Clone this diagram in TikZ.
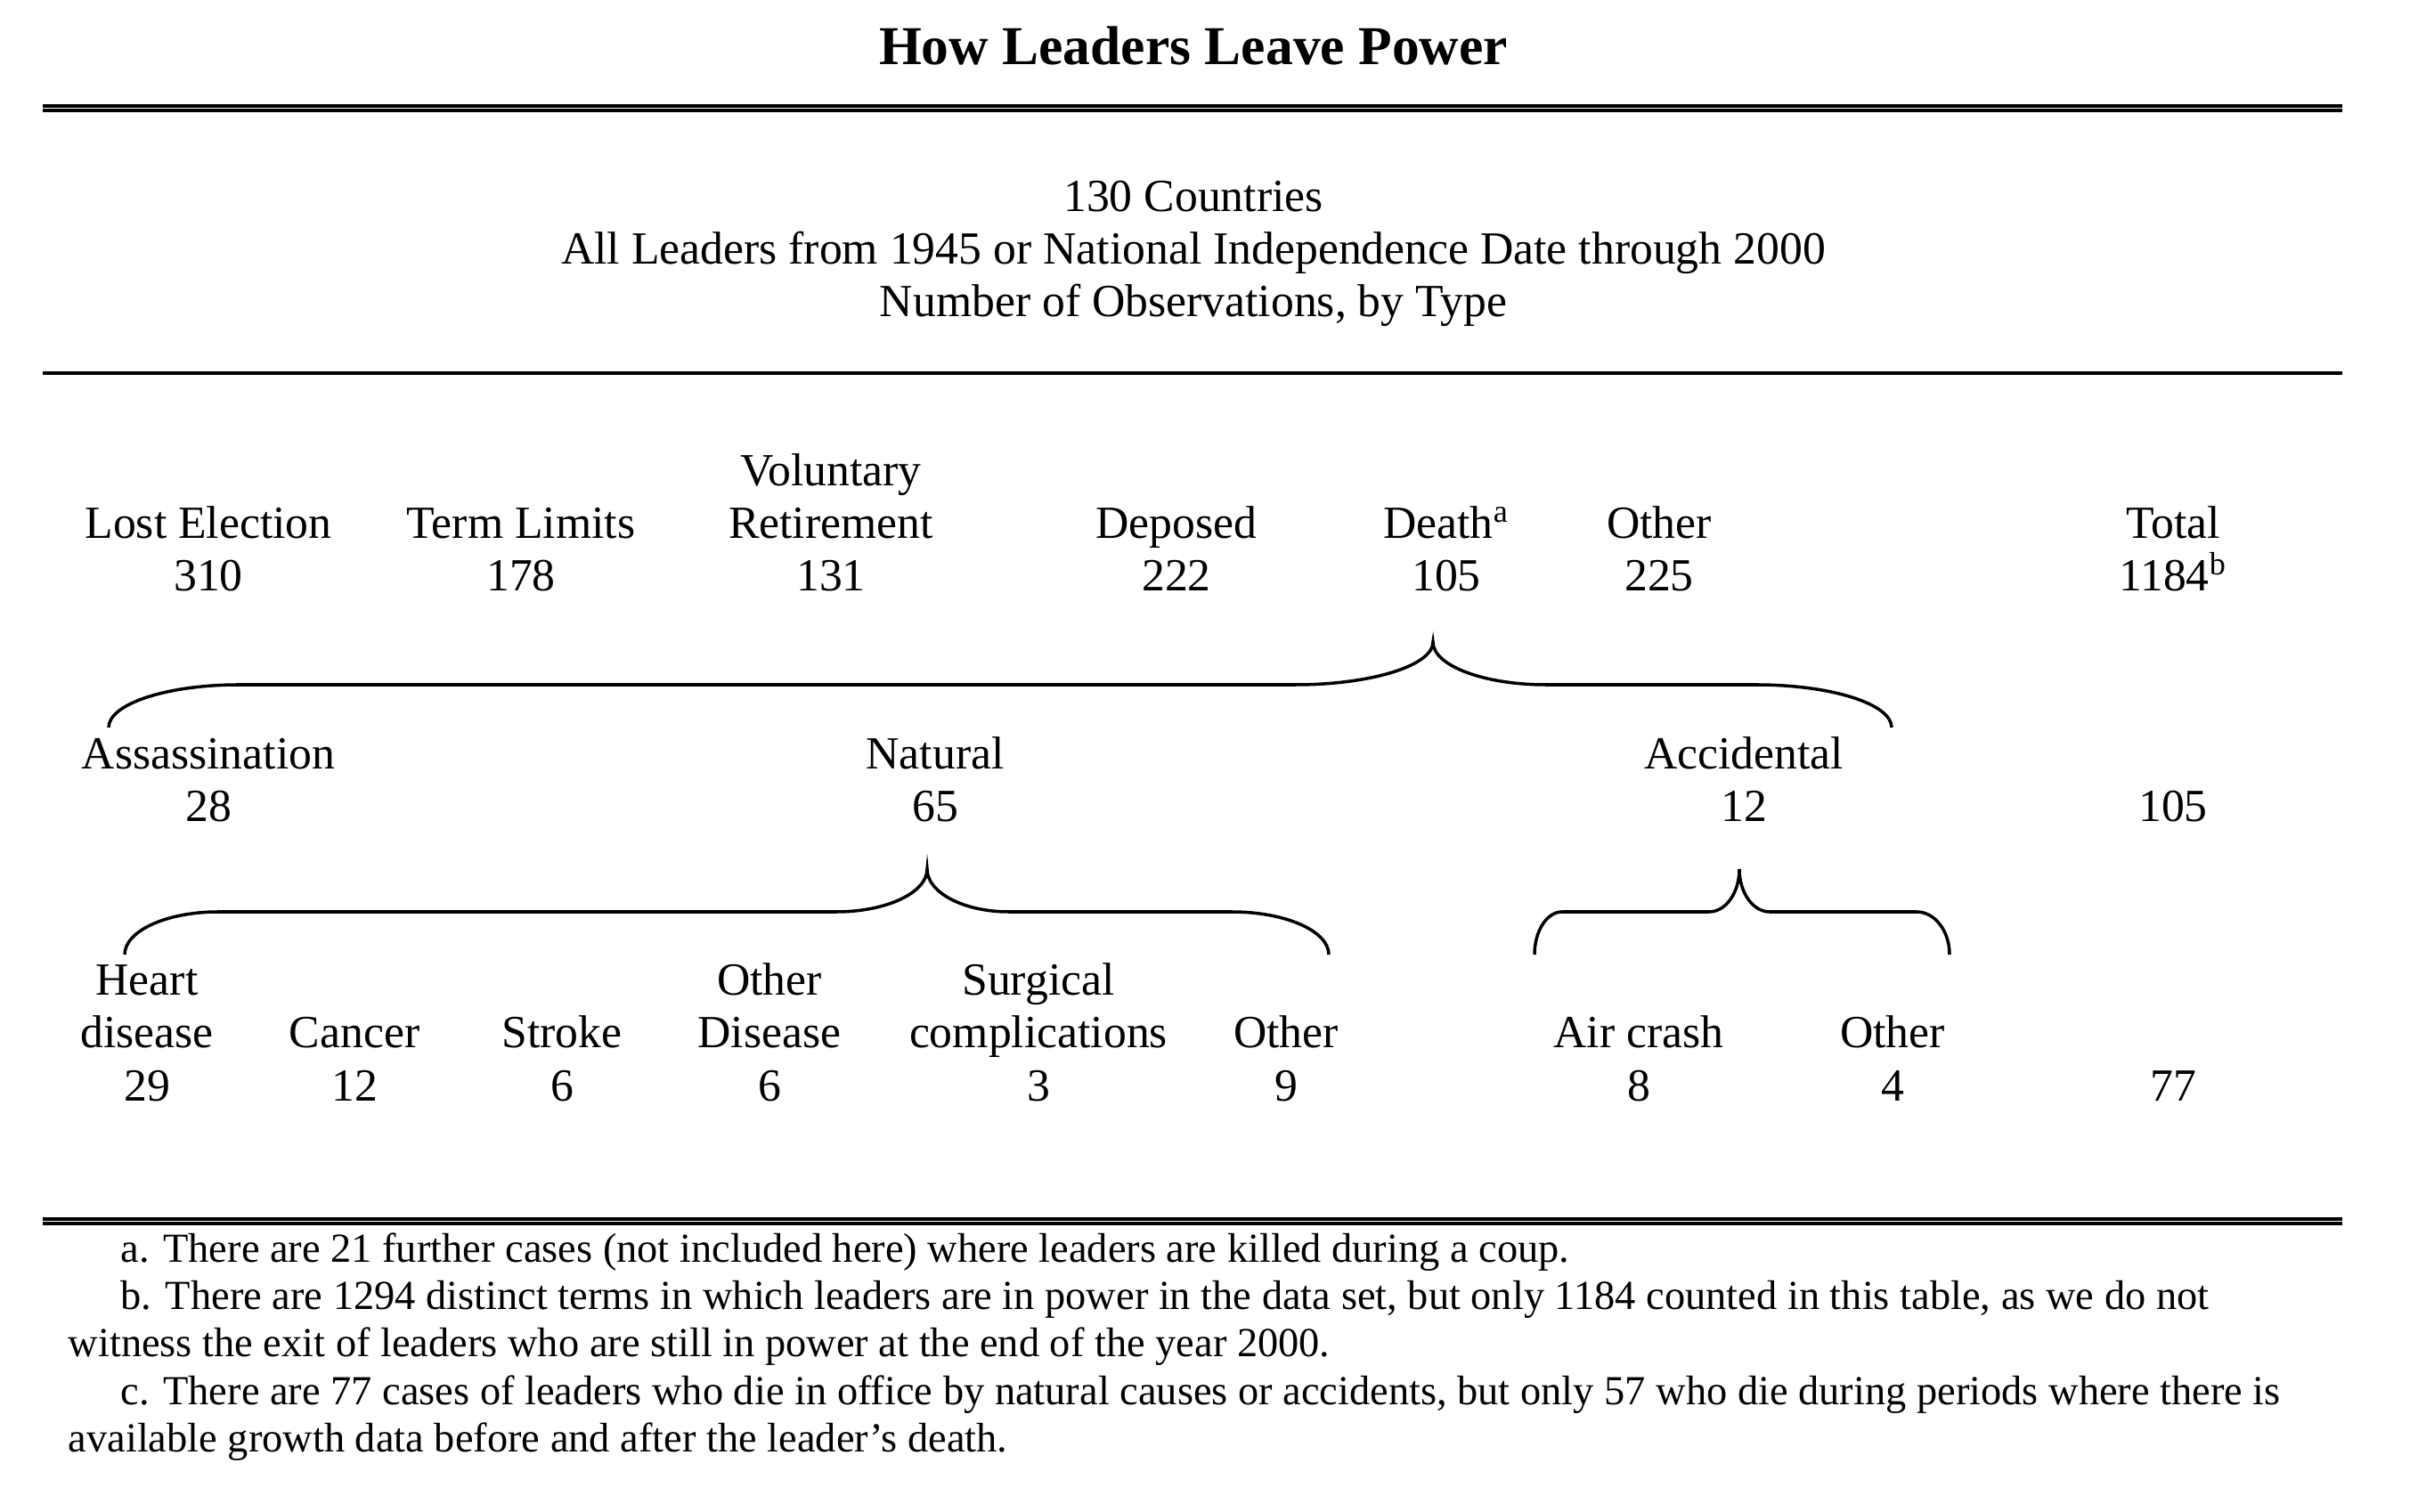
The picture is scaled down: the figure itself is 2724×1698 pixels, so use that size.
\documentclass[tikz,border=0pt]{standalone}
\usepackage{fontspec}
\setmainfont{Liberation Serif}
\usetikzlibrary{positioning}
\newcommand\cellsize{\fontsize{14.7}{16.8}\selectfont}
\newcommand\notesize{\fontsize{13.2}{15}\selectfont}
\newcommand\titlesize{\fontsize{17.5}{20}\selectfont}

\begin{document}
\begin{tikzpicture}[x=0.01cm,y=-0.01cm,
    cell/.style={font=\cellsize,align=center,anchor=base,inner sep=0pt},
    note/.style={font=\notesize,anchor=base west,inner sep=0pt},
    rule/.style={line width=1.14pt},
    brace/.style={line width=1pt},
  ]
  \useasboundingbox (0,0) rectangle (2724,1698);
  % heading and rules
  \node[font=\titlesize\bfseries,anchor=base,inner sep=0pt] (title) at (1340,73) {How Leaders Leave Power};
  \draw[rule] (48,119) -- (2630,119);
  \draw[rule] (48,124) -- (2630,124);
  \node[cell] (sample) at (1340,356) {130 Countries\\All Leaders from 1945 or National Independence Date through 2000\\Number of Observations, by Type};
  \draw[line width=1pt] (48,419) -- (2630,419);
  % exit types
  \foreach \nm/\x/\y/\txt in {lost/234/664/Lost Election\\310, term/585/664/Term Limits\\178,
      retire/933/664/Voluntary\\Retirement\\131, deposed/1321/664/Deposed\\222,
      death/1624/664/Death\textsuperscript{a}\\105, other/1863/664/Other\\225,
      total/2440/664/Total\\1184\textsuperscript{b}}
    \node[cell] (\nm) at (\x,\y) {\txt};
  % kinds of death
  \foreach \nm/\x/\y/\txt in {assas/234/923/Assassination\\28, natural/1050/923/Natural\\65,
      accid/1958/923/Accidental\\12, dtotal/2440/923/105}
    \node[cell] (\nm) at (\x,\y) {\txt};
  % causes
  \foreach \nm/\x/\y/\txt in {heart/165/1236/Heart\\disease\\29, cancer/398/1236/Cancer\\12,
      stroke/631/1236/Stroke\\6, odisease/864/1236/Other\\Disease\\6,
      surgical/1166/1236/Surgical\\complications\\3, nother/1444/1236/Other\\9,
      aircrash/1840/1236/Air crash\\8, aother/2125/1236/Other\\4, ntotal/2440/1236/77}
    \node[cell] (\nm) at (\x,\y) {\txt};
  % braces
  \foreach \l/\wl/\vl/\t/\vr/\wr/\r/\yb in {122/146/155/1609/127/152/2124/817,
      140/105/102/1041/92/109/1492/1072, 1723/31/34/1953/34/37/2189/1072}
    \draw[brace] ({\l},{\yb}) .. controls ({\l},{\yb-26.5}) and ({\l+0.448*\wl},{\yb-48}) .. ({\l+\wl},{\yb-48})
      -- ({\t-\vl},{\yb-48}) .. controls ({\t-0.448*\vl},{\yb-48}) and ({\t},{\yb-69.5}) .. ({\t},{\yb-96})
      .. controls ({\t},{\yb-69.5}) and ({\t+0.448*\vr},{\yb-48}) .. ({\t+\vr},{\yb-48})
      -- ({\r-\wr},{\yb-48}) .. controls ({\r-0.448*\wr},{\yb-48}) and ({\r},{\yb-26.5}) .. ({\r},{\yb});
  % notes
  \draw[rule] (48,1369) -- (2630,1369);
  \draw[rule] (48,1374) -- (2630,1374);
  \node[note] (fna) at (135,1417) {a. There are 21 further cases (not included here) where leaders are killed during a coup.};
  \node[note] (fnb) at (135,1470) {b. There are 1294 distinct terms in which leaders are in power in the data set, but only 1184 counted in this table, as we do not};
  \node[note] (fnbb) at (76,1523) {witness the exit of leaders who are still in power at the end of the year 2000.};
  \node[note] (fnc) at (135,1577) {c. There are 77 cases of leaders who die in office by natural causes or accidents, but only 57 who die during periods where there is};
  \node[note] (fncc) at (76,1630) {available growth data before and after the leader’s death.};
\end{tikzpicture}
\end{document}
